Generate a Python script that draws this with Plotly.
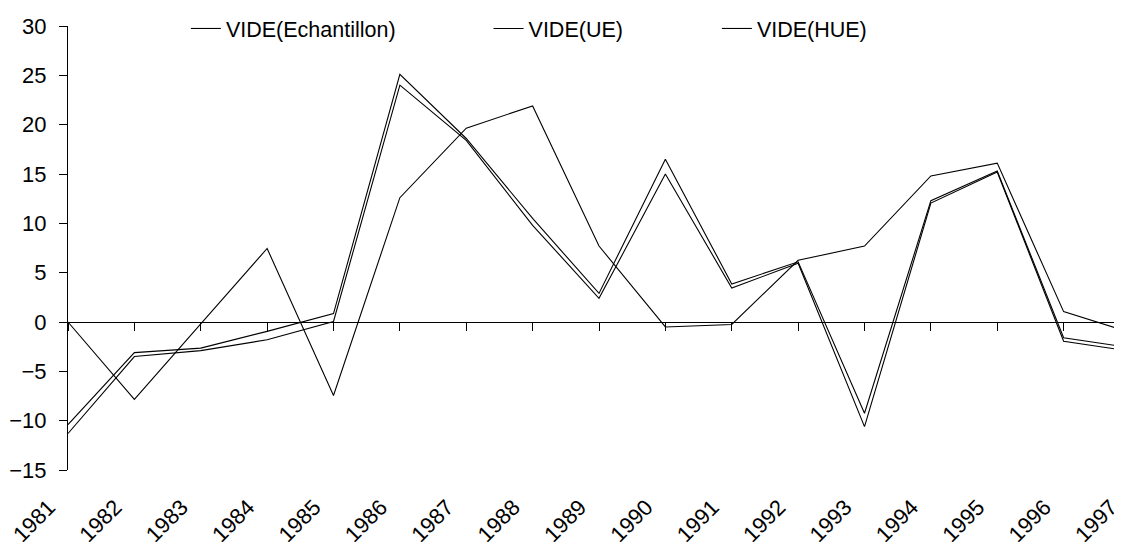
import plotly.graph_objects as go

# --- datos ---
annees = [1981, 1982, 1983, 1984, 1985, 1986, 1987, 1988, 1989,
          1990, 1991, 1992, 1993, 1994, 1995, 1996, 1997]

vide_echantillon = [0.0, -7.85, -0.2, 7.45, -7.45, 12.6, 19.65, 21.9, 7.7,
                    -0.5, -0.25, 6.25, 7.7, 14.8, 16.1, 1.05, -1.05]
vide_ue = [-10.4, -3.1, -2.65, -0.95, 0.85, 25.1, 18.6, 10.5, 2.9,
           16.5, 3.85, 6.1, -9.25, 12.3, 15.3, -1.6, -2.6]
vide_hue = [-11.3, -3.5, -2.9, -1.8, 0.05, 24.0, 18.4, 9.8, 2.4,
            15.0, 3.45, 5.95, -10.6, 12.05, 15.2, -1.95, -2.95]

series = [
    ('VIDE(Echantillon)', vide_echantillon, 'legend'),
    ('VIDE(UE)', vide_ue, 'legend2'),
    ('VIDE(HUE)', vide_hue, 'legend3'),
]

FONT = 'Liberation Sans, Arial, sans-serif'

fig = go.Figure()
for nom, valeurs, leg in series:
    fig.add_trace(go.Scatter(
        x=annees, y=valeurs, name=nom, mode='lines',
        line=dict(color='black', width=1.1),
        legend=leg, showlegend=True
    ))

# trace vide pour que l'axe des x a zero soit dessine
fig.add_trace(go.Scatter(x=[], y=[], xaxis='x2', showlegend=False, hoverinfo='skip'))

leg_style = dict(orientation='h', yanchor='middle', y=0.995, xanchor='left',
                 bgcolor='rgba(0,0,0,0)', font=dict(family=FONT, size=21.5, color='black'))

fig.update_layout(
    width=1122, height=542,
    showlegend=True,
    plot_bgcolor='white', paper_bgcolor='white',
    margin=dict(l=60, r=0, t=18, b=80),
    font=dict(family=FONT, size=22, color='black'),
    xaxis=dict(
        range=[1981, 1997], tickmode='array', tickvals=annees,
        ticktext=[str(a) for a in annees],
        tickangle=-45, showline=False, ticks='', showgrid=False, zeroline=False,
        ticklabelstandoff=19, ticklabelshift=-19, ticklabeloverflow='allow',
        tickfont=dict(family=FONT, size=22, color='black')
    ),
    xaxis2=dict(
        overlaying='x', matches='x', anchor='free', position=1/3,
        tickmode='array', tickvals=annees, showticklabels=False,
        ticks='outside', ticklen=8, tickcolor='black', tickwidth=1,
        showline=True, linecolor='black', linewidth=1,
        showgrid=False, zeroline=False
    ),
    yaxis=dict(
        range=[-15, 30], dtick=5, tick0=0,
        ticks='outside', ticklen=8, tickcolor='black', tickwidth=1,
        showline=True, linecolor='black', linewidth=1,
        showgrid=False, zeroline=False, ticklabelstandoff=8,
        tickfont=dict(family=FONT, size=22, color='black')
    ),
    legend=dict(x=0.111, **leg_style),
    legend2=dict(x=0.396, **leg_style),
    legend3=dict(x=0.611, **leg_style),
)

fig.write_html("out.html")
